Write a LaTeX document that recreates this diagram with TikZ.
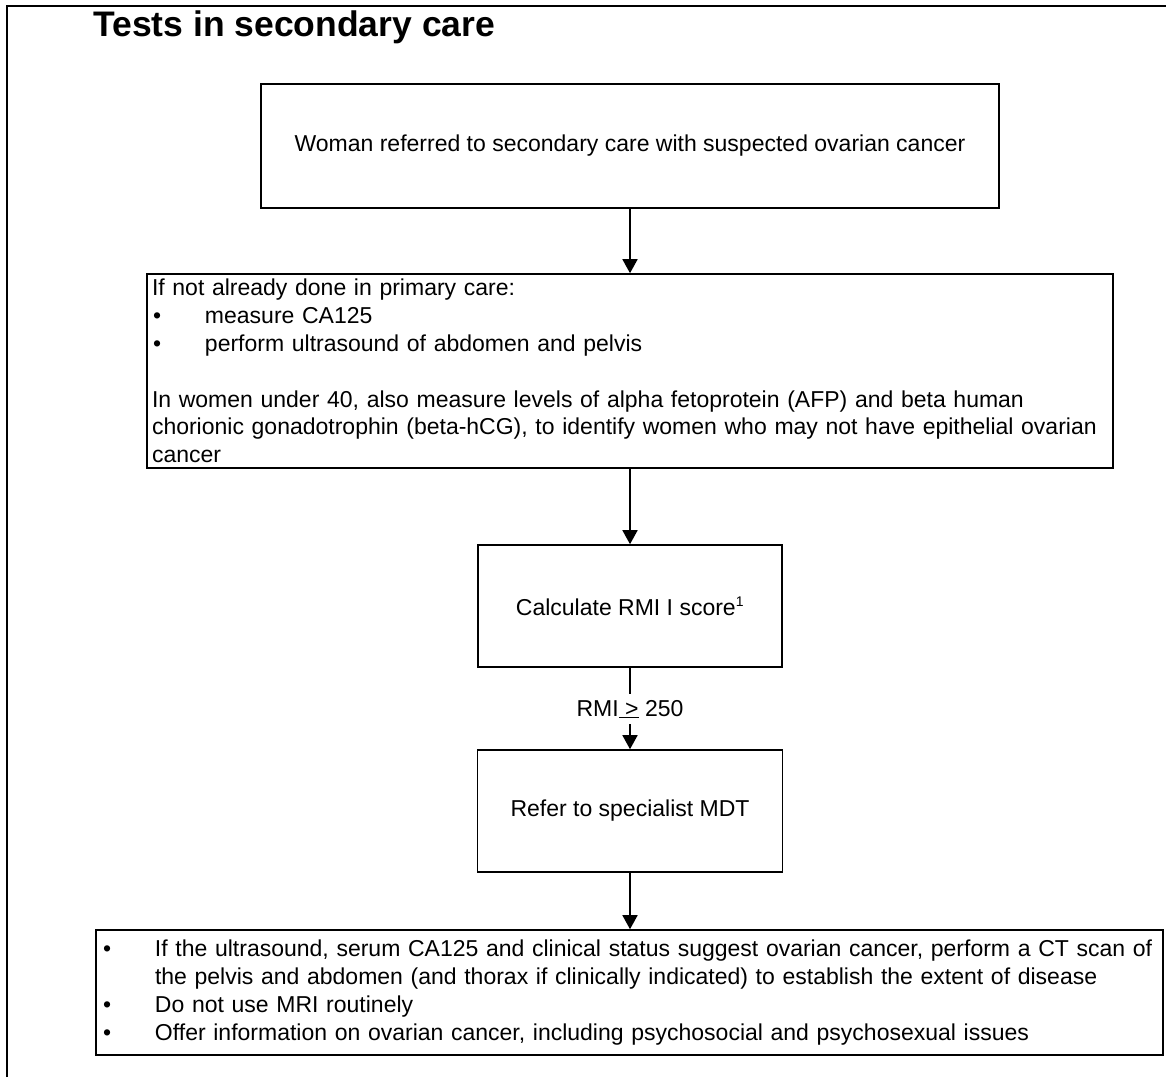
\documentclass[tikz,border=0pt]{standalone}
\usepackage{fontspec}
\setmainfont{Liberation Sans}
\usetikzlibrary{arrows.meta}
\begin{document}
\begin{tikzpicture}[x=1pt,y=-1pt,
  txt/.style={font=\fontsize{23}{27.8}\selectfont},
  box/.style={draw, line width=1.6pt, inner sep=0pt, txt},
  textbox/.style={box, align=left, inner xsep=5pt},
  conn/.style={line width=1.6pt, -{Triangle[width=15pt,length=14pt]}},
  plainline/.style={line width=1.6pt},
]
\useasboundingbox (0,0) rectangle (1166,1077);
\draw[line width=1.4pt] (7,1077) -- (7,6) -- (1166,6);

\node[anchor=base west, inner sep=0pt, font=\fontsize{35.5}{40}\selectfont\bfseries] (title) at (93,36) {Tests in secondary care};

\node[box, minimum width=738pt, minimum height=124pt] (b1) at (630,146)
  {Woman referred to secondary care with suspected ovarian cancer};

\node[textbox, text width=956pt, minimum height=194pt] (b2) at (630,371)
  {If not already done in primary care:\\
   \hspace*{1pt}\makebox[52pt][l]{•}measure CA125\\
   \hspace*{1pt}\makebox[52pt][l]{•}perform ultrasound of abdomen and pelvis\\[27.8pt]
   \mbox{In women under 40, also measure levels of alpha fetoprotein (AFP) and beta human}\\
   \mbox{chorionic gonadotrophin (beta-hCG), to identify women who may not have epithelial ovarian}\\
   cancer};

\node[box, minimum width=304pt, minimum height=122pt] (b3) at (630,606)
  {Calculate RMI I score\textsuperscript{\fontsize{14}{14}\selectfont 1}};

\node[txt, anchor=base, inner xsep=2pt, inner ysep=6pt] (lbl) at (630,716)
  {RMI\underline{\ >} 250};

\node[box, minimum width=305pt, minimum height=122pt] (b4) at (630,811)
  {Refer to specialist MDT};

\node[textbox, text width=1057pt, minimum height=125pt] (b5) at (629.5,992.5)
  {\hspace*{2pt}\makebox[52pt][l]{•}\mbox{If the ultrasound, serum CA125 and clinical status suggest ovarian cancer, perform a CT scan of}\\
   \hspace*{54pt}\mbox{the pelvis and abdomen (and thorax if clinically indicated) to establish the extent of disease}\\
   \hspace*{2pt}\makebox[52pt][l]{•}Do not use MRI routinely\\
   \hspace*{2pt}\makebox[52pt][l]{•}\mbox{Offer information on ovarian cancer, including psychosocial and psychosexual issues}};

\draw[conn] (b1.south) -- (b2.north);
\draw[conn] (b2.south) -- (b3.north);
\draw[plainline] (b3.south) -- (lbl.north);
\draw[conn] (lbl.south) -- (b4.north);
\draw[conn] (b4.south) -- (b5.north -| b4.south);
\end{tikzpicture}
\end{document}
